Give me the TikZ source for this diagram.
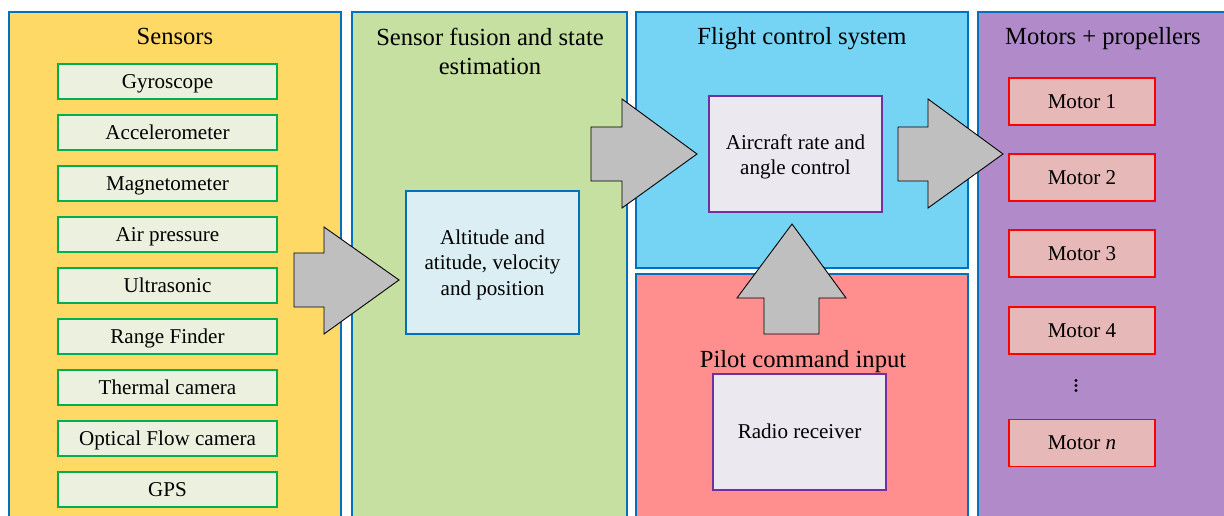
\documentclass[tikz,border=0pt]{standalone}
\usepackage{fontspec}
\setmainfont{Liberation Serif}
\definecolor{sensorsbg}{HTML}{FFD966}
\definecolor{fusionbg}{HTML}{C5E0A0}
\definecolor{flightbg}{HTML}{75D3F4}
\definecolor{pilotbg}{HTML}{FF8E8E}
\definecolor{motorsbg}{HTML}{B18BC9}
\definecolor{panelborder}{HTML}{0070C0}
\definecolor{itemfill}{HTML}{EBF1DE}
\definecolor{itemborder}{HTML}{00B050}
\definecolor{altfill}{HTML}{DAEEF3}
\definecolor{ctrlfill}{HTML}{EBE8F0}
\definecolor{ctrlborder}{HTML}{7030A0}
\definecolor{motorfill}{HTML}{E6B8B7}
\definecolor{motorborder}{HTML}{FF0000}
\definecolor{arrowfill}{HTML}{BFBFBF}
\begin{document}
\begin{tikzpicture}[x=0.02cm,y=-0.02cm,
  panel/.style={draw=panelborder,line width=0.9pt},
  paneltitle/.style={font=\fontsize{14}{16.5}\selectfont,align=center,inner sep=0pt},
  onetitle/.style={font=\fontsize{14}{16.5}\selectfont,inner sep=0pt,text height=9.25pt,text depth=0pt},
  sensorbox/.style={draw=itemborder,fill=itemfill,line width=1.1pt,minimum width=4.38cm,minimum height=0.7cm,inner sep=0pt,font=\fontsize{12}{14}\selectfont,text height=7.9pt,text depth=0pt},
  altbox/.style={draw=panelborder,fill=altfill,line width=1.1pt,minimum width=3.46cm,minimum height=2.86cm,inner sep=0pt},
  ctrlbox/.style={draw=ctrlborder,fill=ctrlfill,line width=1.1pt,minimum width=3.46cm,minimum height=2.32cm,inner sep=0pt,font=\fontsize{12}{14}\selectfont,text height=7.9pt,text depth=0pt},
  boxtext/.style={align=center,inner sep=0pt,font=\fontsize{12}{14.5}\selectfont},
  motorbox/.style={draw=motorborder,fill=motorfill,line width=1.1pt,minimum width=2.92cm,minimum height=0.94cm,inner sep=0pt,font=\fontsize{12}{14}\selectfont,text height=7.9pt,text depth=0pt},
  blockarrow/.style={draw=black,fill=arrowfill,line width=0.5pt,line join=miter}]
\useasboundingbox (0,0) rectangle (1224,516);
\clip (0,0) rectangle (1224,516);
% panels
\draw[panel,fill=sensorsbg] (9,12) rectangle (341,530);
\draw[panel,fill=fusionbg] (352,12) rectangle (627,530);
\draw[panel,fill=flightbg] (636,12) rectangle (968,268);
\draw[panel,fill=pilotbg] (636,274) rectangle (968,530);
\draw[panel,fill=motorsbg] (978,12) rectangle (1240,530);
% titles
\node[onetitle] (tsens) at (175,36) {Sensors};
\node[paneltitle] (tfus) at (490,51.5) {Sensor fusion and state\\estimation};
\node[onetitle] (tflight) at (802,36) {Flight control system};
\node[onetitle] (tpilot) at (803,359) {Pilot command input};
\node[onetitle] (tmot) at (1103,36) {Motors + propellers};
% sensors
\foreach \t [count=\i] in {Gyroscope,Accelerometer,Magnetometer,Air pressure,Ultrasonic,Range Finder,Thermal camera,Optical Flow camera,GPS}
  \node[sensorbox] (s\i) at (167.5,{81.5+51*(\i-1)}) {\t};
% inner boxes
\node[altbox] (alt) at (492.5,262.5) {};
\node[boxtext] (alttext) at (492.5,264.5) {Altitude and\\atitude, velocity\\and position};
\node[ctrlbox] (ctrl) at (795.5,154) {};
\node[boxtext] (ctrltext) at (795.5,157) {Aircraft rate and\\angle control};
\node[ctrlbox] (radio) at (799.5,432) {Radio receiver};
% motors
\node[motorbox] (m1) at (1082,101.5) {Motor 1};
\node[motorbox] (m2) at (1082,177.5) {Motor 2};
\node[motorbox] (m3) at (1082,253.5) {Motor 3};
\node[motorbox] (m4) at (1082,330.5) {Motor 4};
\fill (1076,380.5) circle (1.6) (1076,385.5) circle (1.6) (1076,390.5) circle (1.6);
\node[motorbox] (mn) at (1082,443) {Motor \textit{n}};
% block arrows
\draw[blockarrow] (294,253) -- (324,253) -- (324,227) -- (399,280) -- (324,334) -- (324,307) -- (294,307) -- cycle;
\draw[blockarrow] (591,127) -- (622,127) -- (622,99) -- (697,154) -- (622,208) -- (622,181) -- (591,181) -- cycle;
\draw[blockarrow] (898,127) -- (928,127) -- (928,99) -- (1003,154) -- (928,208) -- (928,181) -- (898,181) -- cycle;
\draw[blockarrow] (764,334) -- (764,298) -- (737,298) -- (792,224) -- (846,298) -- (819,298) -- (819,334) -- cycle;
\end{tikzpicture}
\end{document}
